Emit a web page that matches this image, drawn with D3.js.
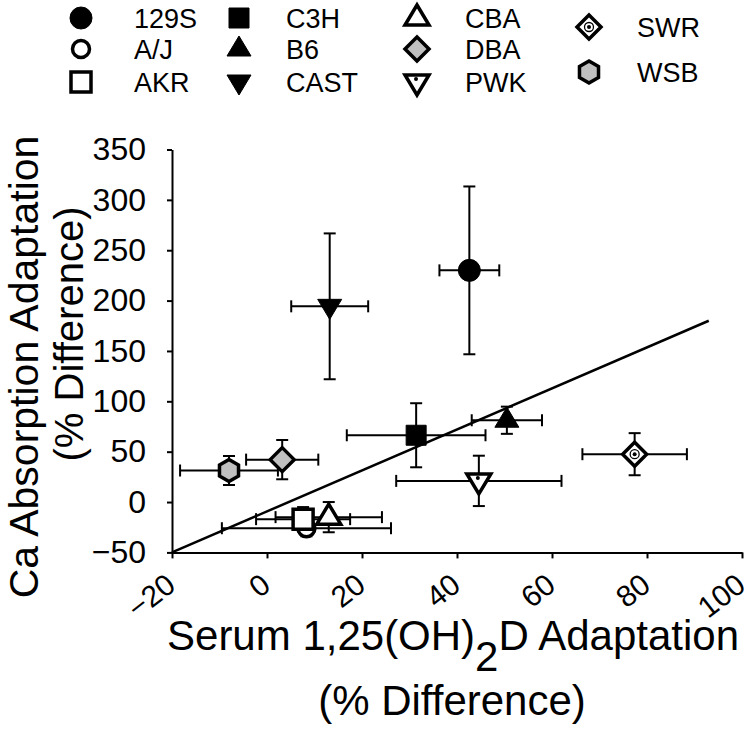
<!DOCTYPE html>
<html><head><meta charset="utf-8">
<script src="https://cdn.jsdelivr.net/npm/d3@7"></script>
<style>
body{margin:0;background:#fff;}
text{font-family:"Liberation Sans",Arial,sans-serif;fill:#000;}
</style></head><body>
<svg id="chart" width="750" height="729"></svg>
<script>
// ---- data ----
const strains   = ["129S","A/J","AKR","C3H","B6","CAST","CBA","DBA","PWK","SWR","WSB"];
const shapes    = ["circle","circle","square","square","triangle","triangleDown","triangle","diamond","triangleDown","diamond","hexagon"];
const fills     = ["black","white","white","black","black","black","white","gray","white","white","gray"];
const serumX    = [42.6, 8.3, 7.6, 31.4, 50.5, 13.2, 13.0, 3.2, 44.6, 77.4, -8.0];
const serumErr  = [6.3, 17.8, 9.9, 14.6, 7.4, 8.1, 11.2, 7.6, 17.4, 11.0, 10.3];
const caY       = [230, -26, -17, 66.3, 81.2, 194.3, -15, 42.1, 21, 47.5, 31.3];
const caErr     = [83.3, 8, 12, 31.8, 13.5, 72.4, 15, 19.5, 25, 20.9, 14.4];
const lineX     = [-20, 93];
const lineY     = [-50, 180];
const xTicks    = [-20, 0, 20, 40, 60, 80, 100];
const yTicks    = [-50, 0, 50, 100, 150, 200, 250, 300, 350];
const legendCols = [["129S","A/J","AKR"],["C3H","B6","CAST"],["CBA","DBA","PWK"],["SWR","WSB"]];

// ---- layout ----
const svg = d3.select("#chart");
svg.append("rect").attr("width",750).attr("height",729).attr("fill","#fff");
const x = d3.scaleLinear().domain([-20,100]).range([172,742]);
const y = d3.scaleLinear().domain([-50,350]).range([552.4,149.5]);
const fillColor = {black:"#000", white:"#fff", gray:"#c0c0c0"};
const FONT = "Liberation Sans, Arial, sans-serif";

function shapePath(t){
  switch(t){
    case "circle": return null;
    case "square": return "M-10,-10H10V10H-10Z";
    case "triangle": return "M0,-13L12,7L-12,7Z";
    case "triangleDown": return "M0,13L12,-7L-12,-7Z";
    case "diamond": return "M0,-12L12,0L0,12L-12,0Z";
    case "hexagon": {
      const r=11, pts=[];
      for(let k=0;k<6;k++){const a=(-90+60*k)*Math.PI/180; pts.push([r*Math.cos(a), r*Math.sin(a)]);}
      return "M"+pts.map(p=>p.join(",")).join("L")+"Z";
    }
  }
}
function drawMarker(g, i){
  const t = shapes[i], f = fills[i];
  const sw = f==="black" ? 1 : 3.5;
  if(t==="circle"){
    g.append("circle").attr("r", f==="black"?11:8.5)
     .attr("fill", fillColor[f]).attr("stroke","#000").attr("stroke-width",sw);
  } else {
    g.append("path").attr("d", shapePath(t))
     .attr("fill", fillColor[f]).attr("stroke","#000").attr("stroke-width",sw)
     .attr("stroke-linejoin","miter");
  }
  if(strains[i]==="PWK"){
    g.append("circle").attr("cx",-1).attr("cy",-3).attr("r",2).attr("fill","#000");
  }
  if(strains[i]==="SWR"){
    g.append("circle").attr("r",4.5).attr("fill","none").attr("stroke","#000").attr("stroke-width",1.3);
    g.append("circle").attr("r",2).attr("fill","#000");
  }
}

// ---- axes ----
const yAxis = d3.axisLeft(y).tickValues(yTicks).tickSize(5).tickSizeOuter(0).tickPadding(21);
const gy = svg.append("g").attr("transform",`translate(${x(-20)},0)`).call(yAxis);
gy.select(".domain").attr("stroke","#000").attr("stroke-width",2);
gy.selectAll(".tick line").attr("stroke","#000").attr("stroke-width",2);
gy.selectAll(".tick text").attr("font-size",32).attr("font-family",FONT).attr("fill","#000");

const xAxis = d3.axisBottom(x).tickValues(xTicks).tickSize(6).tickSizeOuter(0);
const gx = svg.append("g").attr("transform",`translate(0,${y(-50)})`).call(xAxis);
gx.select(".domain").attr("stroke","#000").attr("stroke-width",2);
gx.selectAll(".tick line").attr("stroke","#000").attr("stroke-width",2);
gx.selectAll(".tick text").attr("font-size",30).attr("font-family",FONT).attr("fill","#000")
  .attr("x",0).attr("y",0).attr("dy",0).attr("text-anchor","end")
  .attr("transform","translate(5,36) rotate(-38)");

// ---- axis titles ----
const xt = svg.append("text").attr("x",453).attr("y",650).attr("text-anchor","middle").attr("font-size",42);
xt.append("tspan").text("Serum 1,25(OH)");
xt.append("tspan").attr("dy",21).text("2");
xt.append("tspan").attr("dy",-21).text("D Adaptation");
svg.append("text").attr("x",452).attr("y",715).attr("text-anchor","middle").attr("font-size",42).text("(% Difference)");

svg.append("text").attr("transform","translate(38,367) rotate(-90)").attr("text-anchor","middle").attr("font-size",41).text("Ca Absorption Adaptation");
svg.append("text").attr("transform","translate(83,334) rotate(-90)").attr("text-anchor","middle").attr("font-size",40).text("(% Difference)");

// ---- reference line ----
svg.append("line").attr("x1",x(lineX[0])).attr("y1",y(lineY[0])).attr("x2",x(lineX[1])).attr("y2",y(lineY[1]))
  .attr("stroke","#000").attr("stroke-width",2.5);

// ---- error bars ----
const cap = 6;
const eb = svg.append("g").attr("stroke","#000").attr("stroke-width",2).attr("fill","none");
strains.forEach((s,i)=>{
  const cx = x(serumX[i]), cy = y(caY[i]);
  const x0 = x(serumX[i]-serumErr[i]), x1 = x(serumX[i]+serumErr[i]);
  const y0 = y(caY[i]-caErr[i]), y1 = y(caY[i]+caErr[i]);
  eb.append("line").attr("x1",x0).attr("x2",x1).attr("y1",cy).attr("y2",cy);
  eb.append("line").attr("x1",x0).attr("x2",x0).attr("y1",cy-cap).attr("y2",cy+cap);
  eb.append("line").attr("x1",x1).attr("x2",x1).attr("y1",cy-cap).attr("y2",cy+cap);
  eb.append("line").attr("x1",cx).attr("x2",cx).attr("y1",y0).attr("y2",y1);
  eb.append("line").attr("x1",cx-cap).attr("x2",cx+cap).attr("y1",y0).attr("y2",y0);
  eb.append("line").attr("x1",cx-cap).attr("x2",cx+cap).attr("y1",y1).attr("y2",y1);
});

// ---- markers ----
strains.forEach((s,i)=>{
  const g = svg.append("g").attr("transform",`translate(${x(serumX[i])},${y(caY[i])})`);
  drawMarker(g,i);
});

// ---- legend ----
const colMarkX = [81,239,417,589];
const colTextX = [134,286,465,637];
const rowY = [[18,49,82],[18,49,82],[18,49,82],[27,72]];
legendCols.forEach((col,c)=>{
  col.forEach((name,r)=>{
    const i = strains.indexOf(name);
    const g = svg.append("g").attr("transform",`translate(${colMarkX[c]},${rowY[c][r]})`);
    drawMarker(g,i);
    svg.append("text").attr("x",colTextX[c]).attr("y",rowY[c][r]).attr("dy","0.36em")
      .attr("font-size",27).text(name);
  });
});
</script>
</body></html>
